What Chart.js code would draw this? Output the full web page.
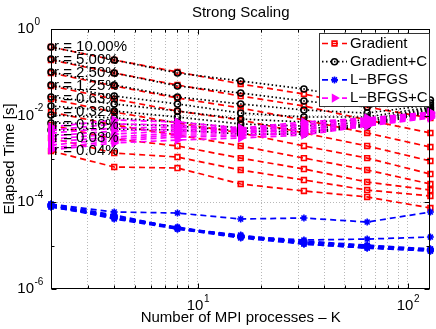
<!DOCTYPE html>
<html><head><meta charset="utf-8">
<script src="https://cdn.jsdelivr.net/npm/chart.js@4.4.1/dist/chart.umd.min.js"></script>
<style>html,body{margin:0;padding:0;background:#fff;}#wrap{width:436px;height:329px;}</style>
</head><body><div id="wrap"><canvas id="c" width="436" height="329"></canvas></div>
<script>
// ---------- data ----------
const processes = [2, 4, 8, 16, 32, 64, 128];
const ratioLabels = ['r = 10.00%', 'r = 5.00%', 'r = 2.50%', 'r = 1.25%', 'r = 0.63%', 'r = 0.32%', 'r = 0.16%', 'r = 0.08%', 'r = 0.04%'];
const seriesNames = ['Gradient', 'Gradient+C', 'L\u2212BFGS', 'L\u2212BFGS+C'];

// Elapsed time [s], one row per r, one column per K
const gradient = [
  [0.384, 0.193, 0.102, 0.0538, 0.0316, 0.0158, 0.00883],
  [0.193, 0.0965, 0.051, 0.0284, 0.0167, 0.00794, 0.00398],
  [0.0965, 0.0484, 0.0256, 0.015, 0.00794, 0.00398, 0.00189],
  [0.0484, 0.0242, 0.0128, 0.00794, 0.00398, 0.002, 0.000899],
  [0.0242, 0.0121, 0.00677, 0.00398, 0.002, 0.00105, 0.00045],
  [0.0121, 0.00609, 0.00358, 0.002, 0.00105, 0.000557, 0.000265],
  [0.00609, 0.00289, 0.002, 0.00105, 0.000587, 0.000294, 0.000192],
  [0.00305, 0.00137, 0.00111, 0.000557, 0.000327, 0.000192, 0.00014],
  [0.00153, 0.000653, 0.000619, 0.000265, 0.000183, 0.000133, 0.000074]
];
const gradientC = [
  [0.384, 0.193, 0.0965, 0.0631, 0.0412, 0.023, 0.023],
  [0.203, 0.0965, 0.0484, 0.0333, 0.0218, 0.0158, 0.0196],
  [0.1018, 0.051, 0.027, 0.0186, 0.0135, 0.0115, 0.0176],
  [0.051, 0.0284, 0.0186, 0.0115, 0.00931, 0.00931, 0.0158],
  [0.027, 0.0186, 0.0128, 0.00837, 0.00714, 0.00794, 0.015],
  [0.0167, 0.0128, 0.00931, 0.00642, 0.00577, 0.00714, 0.0142],
  [0.0104, 0.00883, 0.00714, 0.00519, 0.00492, 0.00642, 0.0135],
  [0.00677, 0.00642, 0.00577, 0.00443, 0.0042, 0.00609, 0.0128],
  [0.00467, 0.00492, 0.00467, 0.00377, 0.00377, 0.00577, 0.0121]
];
const lbfgs = [
  [9.14e-5, 5.98e-5, 5.67e-5, 4.12e-5, 4.35e-5, 3.51e-5, 5.98e-5],
  [9.14e-5, 5.1e-5, 2.55e-5, 1.67e-5, 1.35e-5, 1.42e-5, 1.58e-5],
  [8.67e-5, 4.83e-5, 2.55e-5, 1.67e-5, 1.21e-5, 9.81e-6, 8.37e-6],
  [8.22e-5, 4.58e-5, 2.42e-5, 1.58e-5, 1.15e-5, 9.31e-6, 7.94e-6],
  [8.67e-5, 4.35e-5, 2.55e-5, 1.67e-5, 1.09e-5, 8.83e-6, 7.52e-6],
  [7.8e-5, 4.58e-5, 2.69e-5, 1.58e-5, 1.28e-5, 1.03e-5, 8.37e-6],
  [8.22e-5, 4.83e-5, 2.55e-5, 1.76e-5, 1.15e-5, 9.31e-6, 7.94e-6],
  [8.67e-5, 4.12e-5, 2.42e-5, 1.5e-5, 1.09e-5, 8.83e-6, 7.52e-6],
  [7.8e-5, 4.35e-5, 2.55e-5, 1.58e-5, 1.21e-5, 9.81e-6, 7.94e-6]
];
const lbfgsC = [
  [0.00547, 0.00794, 0.00714, 0.00519, 0.00714, 0.00883, 0.0121],
  [0.00467, 0.00642, 0.00609, 0.00492, 0.00642, 0.00837, 0.0115],
  [0.00398, 0.00519, 0.00547, 0.00467, 0.00609, 0.00794, 0.0115],
  [0.00339, 0.00443, 0.00492, 0.00443, 0.00547, 0.00753, 0.0109],
  [0.00289, 0.00377, 0.00443, 0.0042, 0.00492, 0.00714, 0.0104],
  [0.00247, 0.00322, 0.00398, 0.00398, 0.00467, 0.00677, 0.00982],
  [0.0021, 0.00289, 0.00358, 0.00358, 0.0042, 0.00642, 0.00982],
  [0.00179, 0.0026, 0.00322, 0.00339, 0.00398, 0.00609, 0.00931],
  [0.00161, 0.00234, 0.00274, 0.00305, 0.00358, 0.00577, 0.00883]
];

const xGridValues = [3, 4, 5, 6, 7, 8, 9, 10, 20, 30, 40, 50, 60, 70, 80, 90, 100];
const xLabelValues = [10, 100];
const xLabelExps = ['1', '2'];
const yGridValues = [1e-2, 1e-4];
const yLabelValues = [1, 1e-2, 1e-4, 1e-6];
const yLabelExps = ['0', '-2', '-4', '-6'];
const yMinorValues = [1e-1, 1e-3, 1e-5];

// ---------- styles ----------
const FONT = '"Liberation Sans", Arial, Helvetica, sans-serif';
const styles = [
  {color: '#ff0000', dash: [6, 4], pointStyle: 'rect', radius: 3.4, fill: 'rgba(0,0,0,0)', rotation: 0, order: 4},
  {color: '#000000', dash: [1.5, 2.5], pointStyle: 'circle', radius: 3, fill: 'rgba(0,0,0,0)', rotation: 0, order: 3},
  {color: '#0000ff', dash: [6, 4], pointStyle: 'star', radius: 3.5, fill: '#0000ff', rotation: 0, order: 2},
  {color: '#ff00ff', dash: [6, 4], pointStyle: 'triangle', radius: 3.8, fill: '#ff00ff', rotation: 90, order: 1}
];
const groups = [gradient, gradientC, lbfgs, lbfgsC];

const datasets = [];
groups.forEach((grp, g) => {
  const st = styles[g];
  grp.forEach((row, i) => {
    datasets.push({
      label: seriesNames[g] + ' ' + ratioLabels[i],
      data: processes.map((k, j) => ({x: k, y: row[j]})),
      borderColor: st.color,
      borderWidth: 1.7,
      borderDash: st.dash,
      pointStyle: st.pointStyle,
      pointRadius: st.radius,
      pointRotation: st.rotation,
      pointBorderColor: st.color,
      pointBackgroundColor: st.fill,
      pointBorderWidth: 1.6,
      tension: 0,
      fill: false,
      clip: false,
      order: st.order
    });
  });
});

function drawMarker(ctx, st, x, y) {
  ctx.save();
  ctx.strokeStyle = st.color; ctx.fillStyle = st.fill; ctx.lineWidth = 1.6; ctx.setLineDash([]);
  if (Chart.helpers && Chart.helpers.drawPoint) {
    Chart.helpers.drawPoint(ctx, {pointStyle: st.pointStyle, radius: st.radius, rotation: st.rotation, borderWidth: 1.6}, x, y);
  }
  ctx.restore();
}

function powLabel(ctx, base, exp, x, y, align) {
  ctx.font = '15px ' + FONT;
  const wb = ctx.measureText(base).width;
  ctx.font = '10px ' + FONT;
  const we = ctx.measureText(exp).width;
  let x0;
  if (align === 'center') x0 = x - (wb + we) / 2;
  else x0 = x - wb;
  ctx.textAlign = 'left'; ctx.textBaseline = 'middle'; ctx.fillStyle = '#000';
  ctx.font = '15px ' + FONT;
  ctx.fillText(base, x0, y);
  ctx.font = '10px ' + FONT;
  ctx.fillText(exp, x0 + wb + 0.5, y - 7);
}

const decor = {
  id: 'decor',
  afterDatasetsDraw(chart) {
    const {ctx, chartArea: a, scales: {x, y}} = chart;
    ctx.save();
    const line = (x1, y1, x2, y2) => { ctx.beginPath(); ctx.moveTo(x1, y1); ctx.lineTo(x2, y2); ctx.stroke(); };
    ctx.strokeStyle = '#000'; ctx.lineWidth = 1; ctx.setLineDash([]);
    const L = Math.round(a.left) + 0.5, R = Math.round(a.right) - 0.5, T = Math.round(a.top) + 0.5, B = Math.round(a.bottom) - 0.5;
    ctx.strokeRect(L, T, R - L, B - T);
    xGridValues.forEach(v => {
      const px = Math.round(x.getPixelForValue(v)) + 0.5;
      const len = xLabelValues.includes(v) ? 5 : 3;
      line(px, B, px, B - len); line(px, T, px, T + len);
    });
    yLabelValues.forEach(v => {
      const py = Math.round(y.getPixelForValue(v)) + 0.5;
      line(L, py, L + 5, py); line(R, py, R - 5, py);
    });
    yMinorValues.forEach(v => {
      const py = Math.round(y.getPixelForValue(v)) + 0.5;
      line(L, py, L + 3, py); line(R, py, R - 3, py);
    });
    xLabelValues.forEach((v, i) => powLabel(ctx, '10', xLabelExps[i], x.getPixelForValue(v), 306, 'center'));
    yLabelValues.forEach((v, i) => powLabel(ctx, '10', yLabelExps[i], 34, y.getPixelForValue(v), 'right'));
    ctx.font = '15px ' + FONT; ctx.fillStyle = '#000'; ctx.textAlign = 'left'; ctx.textBaseline = 'middle';
    ratioLabels.forEach((t, i) => {
      ctx.fillText(t, x.getPixelForValue(processes[0]) + 3, y.getPixelForValue(gradient[i][0]));
    });
    const lx = 319, ly = 33, lw = 110, lh = 73;
    ctx.fillStyle = '#fff'; ctx.fillRect(lx, ly, lw, lh);
    ctx.strokeStyle = '#333'; ctx.lineWidth = 1; ctx.strokeRect(lx + 0.5, ly + 0.5, lw, lh);
    seriesNames.forEach((name, i) => {
      const st = styles[i];
      const ry = ly + 10.5 + i * 18.2;
      ctx.save();
      ctx.strokeStyle = st.color; ctx.lineWidth = 1.7; ctx.setLineDash(st.dash);
      line(lx + 3, ry, lx + 28, ry);
      ctx.restore();
      drawMarker(ctx, st, lx + 15.5, ry);
      ctx.fillStyle = '#000'; ctx.font = '15px ' + FONT; ctx.textAlign = 'left'; ctx.textBaseline = 'middle';
      ctx.fillText(name, lx + 31, ry);
    });
    ctx.restore();
  }
};

new Chart(document.getElementById('c'), {
  type: 'line',
  data: {datasets},
  plugins: [decor],
  options: {
    responsive: false,
    animation: false,
    devicePixelRatio: 1,
    layout: {padding: {left: 0, right: 3, top: 0, bottom: 0}},
    plugins: {
      legend: {display: false},
      tooltip: {enabled: false},
      title: {display: true, text: 'Strong Scaling', fullSize: false, color: '#000',
        font: {family: FONT, size: 15, weight: 'normal'}, padding: {top: 4, bottom: 7}}
    },
    scales: {
      x: {
        type: 'logarithmic', min: 2, max: 128,
        afterBuildTicks: s => { s.ticks = xGridValues.map(v => ({value: v})); },
        afterFit: s => { s.height = 40; },
        ticks: {display: false},
        grid: {color: '#b8b8b8', lineWidth: 1, drawTicks: false},
        border: {display: false, dash: [1, 2]},
        title: {display: true, text: 'Number of MPI processes \u2013 K', color: '#000',
          font: {family: FONT, size: 15}, padding: {top: 0, bottom: 2}}
      },
      y: {
        type: 'logarithmic', min: 1e-6, max: 1,
        afterBuildTicks: s => { s.ticks = yGridValues.map(v => ({value: v})); },
        afterFit: s => { s.width = 51; },
        ticks: {display: false},
        grid: {color: '#b8b8b8', lineWidth: 1, drawTicks: false},
        border: {display: false, dash: [1, 2]},
        title: {display: true, text: 'Elapsed Time [s]', color: '#000',
          font: {family: FONT, size: 15}, padding: {top: 1, bottom: 0}}
      }
    }
  }
});
</script></body></html>
